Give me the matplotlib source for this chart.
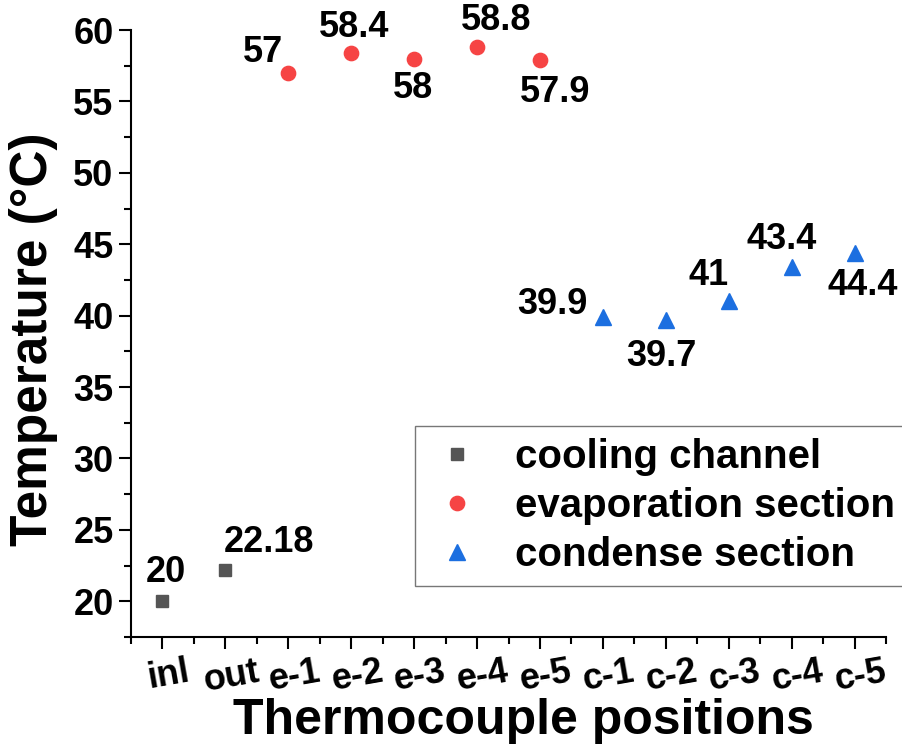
import matplotlib
matplotlib.use("Agg")
import matplotlib.pyplot as plt
import matplotlib.transforms as mtransforms
from matplotlib.ticker import MultipleLocator

categories = ["inl", "out", "e-1", "e-2", "e-3", "e-4", "e-5",
              "c-1", "c-2", "c-3", "c-4", "c-5"]
cooling_vals = [20, 22.18]
evap_vals = [57, 58.4, 58, 58.8, 57.9]
cond_vals = [39.9, 39.7, 41, 43.4, 44.4]
cooling_labels = ["20", "22.18"]
evap_labels = ["57", "58.4", "58", "58.8", "57.9"]
cond_labels = ["39.9", "39.7", "41", "43.4", "44.4"]
series_names = ["cooling channel", "evaporation section", "condense section"]
yticks = [20, 25, 30, 35, 40, 45, 50, 55, 60]

plt.rcParams['font.family'] = ['Liberation Sans', 'DejaVu Sans']
plt.rcParams['font.weight'] = 'bold'

fig = plt.figure(figsize=(9.02, 7.46), dpi=100)
ax = fig.add_axes([131/902, 1-637/746, (886-131)/902, (637-30)/746])

x_cool = list(range(0, 2))
x_evap = list(range(2, 7))
x_cond = list(range(7, 12))

ax.plot(x_cool, cooling_vals, ls='none', marker='s', ms=9, color='#555555',
        label=series_names[0])
ax.plot(x_evap, evap_vals, ls='none', marker='o', ms=10.3, color='#F64444',
        label=series_names[1])
ax.plot(x_cond, cond_vals, ls='none', marker='^', ms=11, color='#1C6FE0',
        label=series_names[2])

# label offsets in pixels
cool_off = [(3, 29), (44, 28)]
evap_off = [(-25, 20), (3, 25), (-1, -30), (19, 27), (15, -33)]
cond_off = [(-50, 13), (-4, -37), (-20, 26), (-10, 28), (8, -33)]

for xs, vs, labs, offs in [(x_cool, cooling_vals, cooling_labels, cool_off),
                           (x_evap, evap_vals, evap_labels, evap_off),
                           (x_cond, cond_vals, cond_labels, cond_off)]:
    for xv, yv, lab, off in zip(xs, vs, labs, offs):
        ax.annotate(lab, (xv, yv), xytext=off, textcoords='offset pixels',
                    ha='center', va='center', fontsize=26, fontweight='bold')

ax.set_xlim(-0.5, 11.5)
ax.set_ylim(17.5, 60)
ax.set_xticks(range(len(categories)))
ax.set_xticklabels(categories, rotation=10, ha='center')
ax.xaxis.set_minor_locator(MultipleLocator(0.5))
ax.set_yticks(yticks)
ax.yaxis.set_minor_locator(MultipleLocator(2.5))

for s in ['top', 'right']:
    ax.spines[s].set_visible(False)
for s in ['left', 'bottom']:
    ax.spines[s].set_linewidth(1.5)

ax.tick_params(axis='both', which='major', direction='out', length=8.5, width=1.5,
               labelsize=26, pad=4)
ax.tick_params(axis='both', which='minor', direction='out', length=5, width=1.5)
offset = mtransforms.ScaledTranslation(6/100, 0, fig.dpi_scale_trans)
for lbl in ax.get_xticklabels():
    lbl.set_transform(lbl.get_transform() + offset)
    lbl.set_fontweight('bold')
for lbl in ax.get_yticklabels():
    lbl.set_fontweight('bold')

ax.set_xlabel("Thermocouple positions", fontsize=36, fontweight='bold')
ax.xaxis.set_label_coords(0.52, -0.1)
ax.xaxis.label.set_va('top')
ax.set_ylabel("Temperature (°C)", fontsize=37, fontweight='bold')
ax.yaxis.set_label_coords(-0.097, 0.49)

leg = ax.legend(loc='upper left', bbox_to_anchor=(415/902, 1-426/746),
                bbox_transform=fig.transFigure, fontsize=29, frameon=True,
                fancybox=False, framealpha=1, edgecolor='#777777',
                handletextpad=0.68, labelspacing=0.27, borderpad=0.3,
                handlelength=1.5, borderaxespad=0)
leg.get_frame().set_linewidth(1.0)
for t in leg.get_texts():
    t.set_fontweight('bold')

fig.savefig("out.png", dpi=100)
